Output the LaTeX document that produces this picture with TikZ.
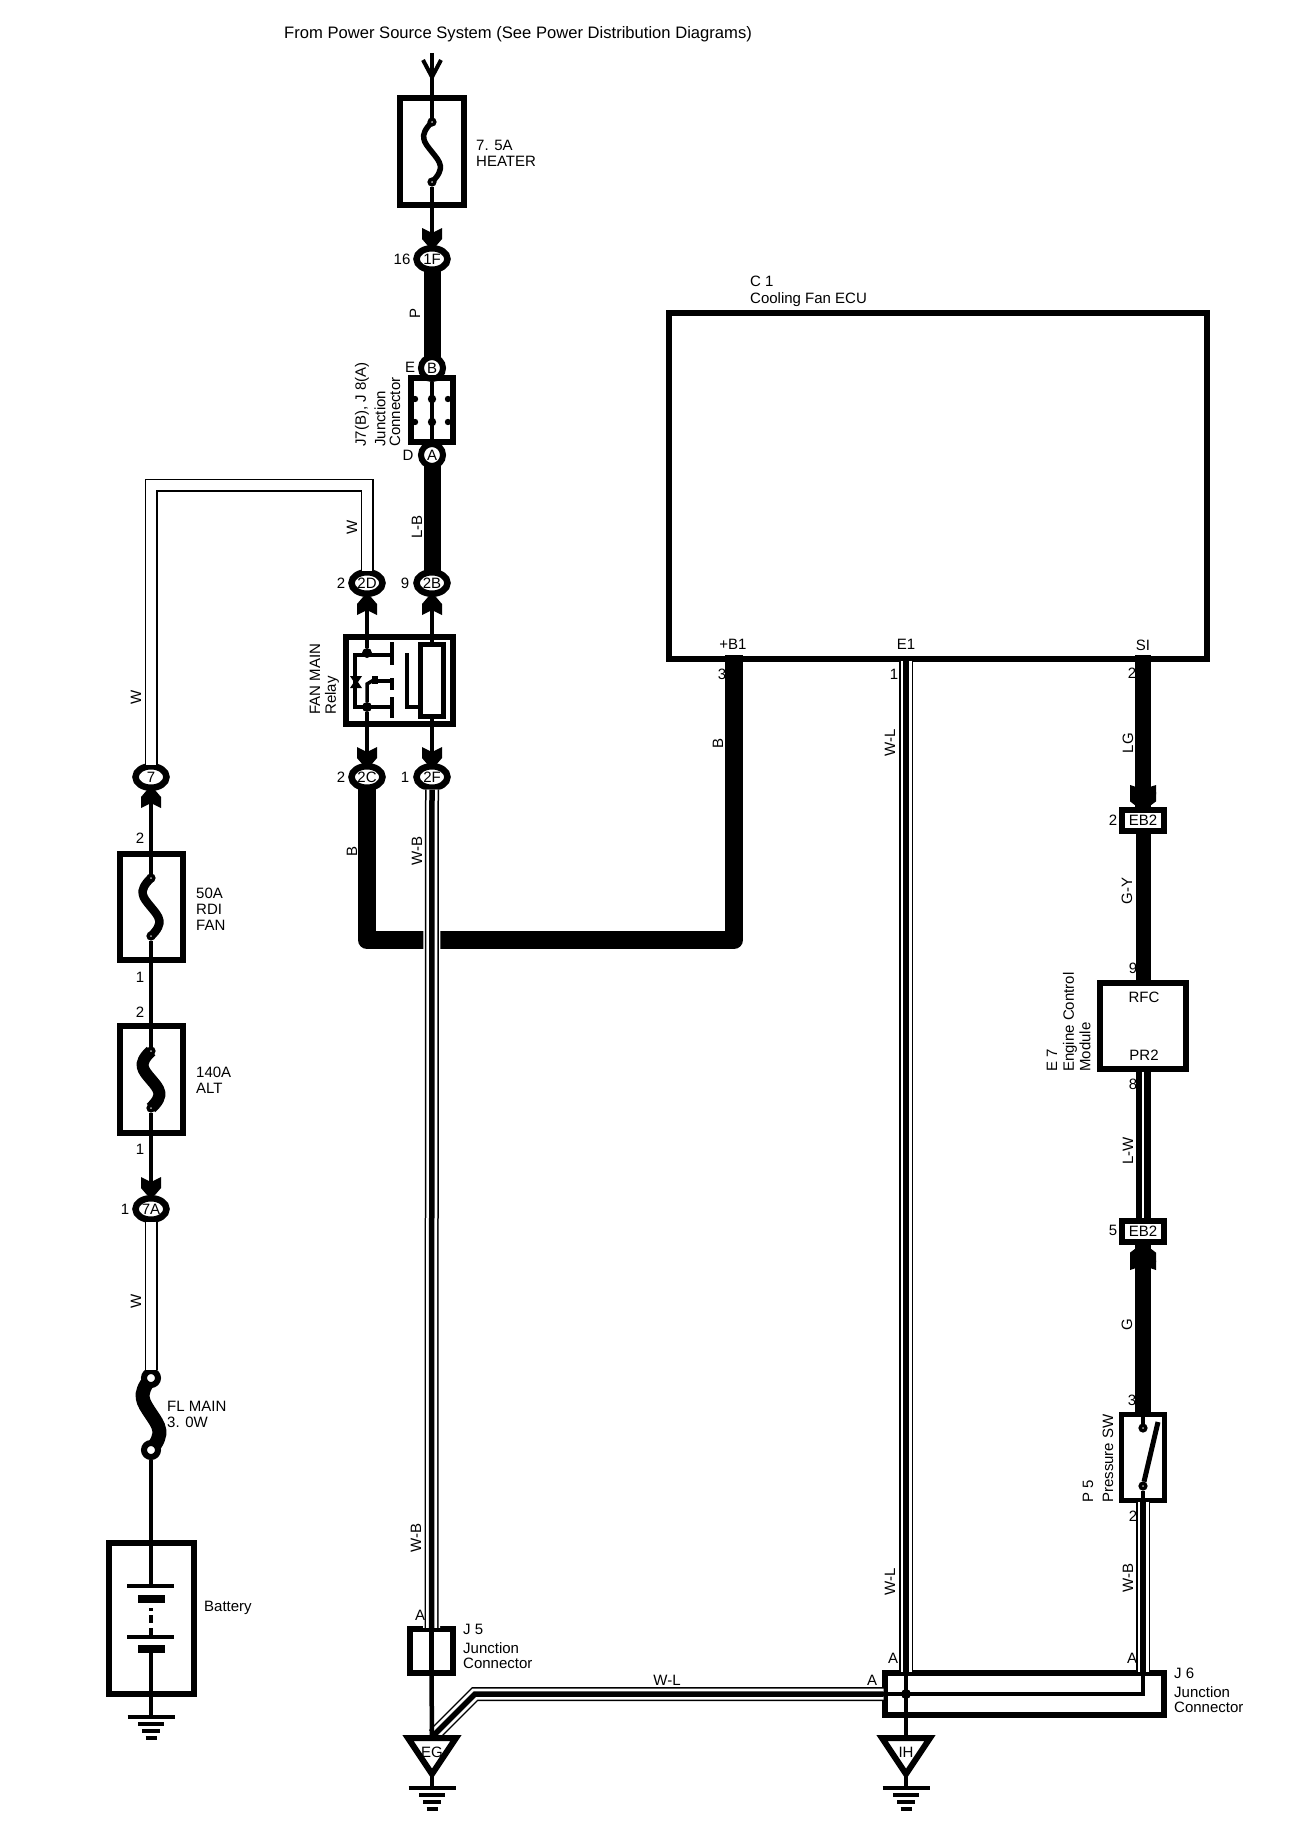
\documentclass[tikz,border=0pt]{standalone}
\usepackage{fontspec}
\setmainfont{Liberation Sans}
\usetikzlibrary{shapes.geometric}
\tikzset{
  lbl/.style={inner sep=0pt,font=\fontsize{15}{17}\selectfont},
  vlbl/.style={lbl,rotate=90},
  boxline/.style={draw,rectangle,inner sep=0pt,line width=6pt},
  plug/.style={draw,ellipse,inner sep=0pt,line width=6.5pt,minimum width=31pt,minimum height=21.5pt,font=\fontsize{15}{17}\selectfont},
  roundplug/.style={draw,circle,inner sep=0pt,line width=6pt,minimum size=22pt,font=\fontsize{15}{17}\selectfont},
  ebplug/.style={boxline,minimum width=42pt,minimum height=21pt,font=\fontsize{15}{17}\selectfont},
  fusedot/.style={draw,circle,fill=white,inner sep=0pt,line width=3.5pt,minimum size=5.5pt},
  linkdot/.style={draw,circle,fill=white,inner sep=0pt,line width=6pt,minimum size=14pt},
  bigdot/.style={circle,fill,inner sep=0pt,minimum size=10pt},
  wirethin/.style={line width=4.5pt},
  wirefat/.style={line width=17pt,shorten <=-4pt,shorten >=-4pt},
  wirewhite/.style={line width=13pt,shorten <=-1.5pt,shorten >=-1.5pt,postaction={draw,white,line width=10pt}},
  wiretrace/.style={line width=14pt,shorten <=-1.5pt,shorten >=-1.5pt,postaction={draw,white,line width=11pt},postaction={draw,black,line width=5.5pt}},
  wirestripe/.style={line width=15pt,postaction={draw,white,line width=1.5pt}},
  tri/.style={line width=6pt,line join=miter},
  pics/chevron/.style={code={\fill (-10,0) -- (0,5) -- (10,0) -- (10,11) -- (4,18) -- (-4,18) -- (-10,11) -- cycle;}},
  pics/fuseS/.style={code={\draw[line width=#1] (0,0) .. controls (-14,14) and (-8,20) .. (0,30) .. controls (8,40) and (14,46) .. (0,60);}},
  pics/gnd/.style={code={
    \draw[line width=4pt] (-23.5,0) -- (23.5,0);
    \draw[line width=4pt] (-13,7) -- (13,7);
    \draw[line width=4pt] (-9,14) -- (9,14);
    \draw[line width=4pt] (-5.5,21) -- (5.5,21);}}
}
\begin{document}
\begin{tikzpicture}[x=1pt,y=-1pt]
\useasboundingbox (0,0) rectangle (1312,1828);
\node[lbl,anchor=west,font=\fontsize{16.6}{18}\selectfont] (title) at (284,34) {From Power Source System (See Power Distribution Diagrams)};
\coordinate (srcIn) at (432,53);
\draw[line width=4pt] (423,60) -- (432,77) -- (441,60);
\node[boxline,minimum width=64pt,minimum height=107pt] (fuseH) at (432,151.5) {};
\pic at (432,122) {fuseS=5.5pt};
\node[fusedot] (fuseHa) at (432,122) {};
\node[fusedot] (fuseHb) at (432,182) {};
\draw[wirethin] (srcIn) -- (fuseHa);
\draw[wirethin] (fuseHb) -- (432,240);
\node[lbl,anchor=west] (fuseHt1) at (476,145) {7. 5A};
\node[lbl,anchor=west] (fuseHt2) at (476,161) {HEATER};
\pic at (432,228) {chevron};
\node[plug] (c1F) at (432,259) {1F};
\node[lbl] (c1Fn) at (402,259) {16};
\node[roundplug] (cB) at (432,368) {B};
\node[boxline,minimum width=42pt,minimum height=64pt] (jc78) at (432,410) {};
\node[roundplug] (cA) at (432,455) {A};
\node[lbl] (cBn) at (410,367) {E};
\node[lbl] (cAn) at (408,455) {D};
\draw[wirefat] (c1F.south) -- (cB.north);
\node[vlbl] (wP) at (415,313) {P};
\draw[wirethin] (cB.south) -- (cA.north);
\foreach \yy in {399,422} {
  \fill (415,\yy) circle (3.2);
  \fill (432,\yy) circle (4.2);
  \fill (448,\yy) circle (3.2);
}
\node[vlbl,anchor=west] (jcT1) at (362,447) {J7(B), J 8(A)};
\node[vlbl,anchor=west] (jcT2) at (380,447) {Junction};
\node[vlbl,anchor=west] (jcT3) at (395,447) {Connector};
\node[plug] (c2D) at (367,583) {2D};
\node[plug] (c2B) at (432,583) {2B};
\node[lbl] (c2Dn) at (341,583) {2};
\node[lbl] (c2Bn) at (405,583) {9};
\draw[wirefat] (cA.south) -- (c2B.north);
\node[vlbl] (wLB) at (417,527) {L-B};
\node[vlbl] (wW1) at (352,527) {W};
\pic[rotate=180] at (367,615) {chevron};
\pic[rotate=180] at (432,615) {chevron};
\node[boxline,minimum width=107pt,minimum height=87pt] (relay) at (399.5,680.5) {};
\node[boxline,line width=5pt,minimum width=23pt,minimum height=72pt] (coil) at (432,680.5) {};
\node[bigdot] (rA) at (367,653) {};
\node[bigdot] (rB) at (367,707) {};
\draw[wirethin] (c2D.south) -- (rA);
\draw[wirethin] (c2B.south) -- (coil.north);
\draw[line width=3.5pt] (392,655) -- (355,655) -- (355,707) -- (392,707);
\draw[line width=3.5pt] (rB) -- (367,684) -- (377,678);
\fill (372,676) rectangle (378,684);
\draw[line width=3.5pt] (378,681) -- (392,681);
\fill (350,676) -- (362,676) -- (358,682) -- (362,688) -- (350,688) -- (354,682) -- cycle;
\draw[line width=3.5pt] (392,642) -- (392,665);
\draw[line width=3.5pt] (392,678) -- (392,690);
\draw[line width=3.5pt] (392,697) -- (392,718);
\draw[line width=3.5pt] (407,653) -- (407,707) -- (418,707);
\node[vlbl,anchor=west] (relayT1) at (315,715) {FAN MAIN};
\node[vlbl,anchor=west] (relayT2) at (332,715) {Relay};
\pic at (367,747) {chevron};
\pic at (432,747) {chevron};
\node[plug] (c2C) at (367,777) {2C};
\node[plug] (c2F) at (432,777) {2F};
\node[lbl] (c2Cn) at (341,777) {2};
\node[lbl] (c2Fn) at (405,777) {1};
\draw[wirethin] (rB) -- (c2C.north);
\draw[wirethin] (coil.south) -- (c2F.north);
\node[vlbl] (wB1) at (352,851) {B};
\node[vlbl] (wWB1) at (417,851) {W-B};
\node[vlbl] (wWB2) at (416,1538) {W-B};
\node[plug] (c7) at (151,777) {7};
\pic[rotate=180] at (151,808) {chevron};
\draw[wirewhite] (c2D.north) -- (367,485) -- (151,485) -- (c7.north);
\node[vlbl] (wW2) at (136,697) {W};
\node[lbl] (f1n2) at (140,838) {2};
\node[boxline,minimum width=63pt,minimum height=106pt] (fuseR) at (151.5,907) {};
\pic at (151,878) [yscale=0.97] {fuseS=8.5pt};
\node[fusedot] (fuseRa) at (151,878) {};
\node[fusedot] (fuseRb) at (151,936) {};
\node[lbl,anchor=west] (fuseRt1) at (196,893) {50A};
\node[lbl,anchor=west] (fuseRt2) at (196,909) {RDI};
\node[lbl,anchor=west] (fuseRt3) at (196,925) {FAN};
\node[lbl] (f1n1) at (140,977) {1};
\node[lbl] (f2n2) at (140,1012) {2};
\node[boxline,minimum width=63pt,minimum height=107pt] (fuseA) at (151.5,1079.5) {};
\pic at (151,1051) [yscale=0.95] {fuseS=12pt};
\node[fusedot] (fuseAa) at (151,1051) {};
\node[fusedot] (fuseAb) at (151,1108) {};
\node[lbl,anchor=west] (fuseAt1) at (196,1072) {140A};
\node[lbl,anchor=west] (fuseAt2) at (196,1088) {ALT};
\node[lbl] (f2n1) at (140,1149) {1};
\pic at (151,1177) {chevron};
\node[plug] (c7A) at (151,1209) {7A};
\node[lbl] (c7An) at (125,1209) {1};
\draw[wirethin] (c7.south) -- (fuseRa);
\draw[wirethin] (fuseRb) -- (fuseAa);
\draw[wirethin] (fuseAb) -- (151,1190);
\pic at (151,1378) [yscale=1.2] {fuseS=14pt};
\node[linkdot] (flA) at (151,1378) {};
\node[linkdot] (flB) at (151,1450) {};
\draw[wirewhite] (c7A.south) -- (flA.north);
\node[vlbl] (wW3) at (136,1301) {W};
\node[lbl,anchor=west] (flT1) at (167,1406) {FL MAIN};
\node[lbl,anchor=west] (flT2) at (167,1422) {3. 0W};
\node[boxline,line width=5.5pt,minimum width=85pt,minimum height=151pt] (batt) at (151.5,1618.5) {};
\coordinate (batA) at (151,1586);
\coordinate (batB) at (151,1649);
\coordinate (gndB) at (151,1716);
\draw[wirethin] (flB.south) -- (batA);
\draw[wirethin] (batB) -- (gndB);
\draw[line width=4pt] (127,1586) -- (174,1586);
\fill (138,1595) rectangle (165,1603);
\draw[wirethin,dash pattern=on 3pt off 4pt on 8pt off 5pt on 7pt] (151,1608) -- (151,1635);
\draw[line width=4pt] (127,1637) -- (174,1637);
\fill (138,1645) rectangle (165,1653);
\pic at (151,1716.5) {gnd};
\node[lbl,anchor=west] (battT) at (204,1608) {Battery};
\node[boxline,line width=5.5pt,minimum width=538pt,minimum height=346pt] (ecu) at (938,486) {};
\node[lbl,anchor=west] (ecuT1) at (750,281) {C 1};
\node[lbl,anchor=west] (ecuT2) at (750,300) {Cooling Fan ECU};
\node[lbl] (pinB1) at (733,644) {+B1};
\node[lbl] (pinE1) at (906,644) {E1};
\node[lbl] (pinSI) at (1143,645) {SI};
\node[lbl] (pinB1n) at (722,674) {3};
\node[lbl] (pinE1n) at (894,674) {1};
\node[lbl] (pinSIn) at (1132,673) {2};
\coordinate (ecuB1) at (734,659);
\coordinate (ecuE1) at (906,662);
\coordinate (ecuSI) at (1143,659);
\draw[wirefat,line width=18pt,line join=round] (ecuB1) -- (734,940) -- (367,940) -- (c2C.south);
\node[vlbl] (wB2) at (718,743) {B};
\node[vlbl] (wWL1) at (890,743) {W-L};
\node[vlbl] (wWL2) at (890,1582) {W-L};
\node[boxline,line width=5.5pt,minimum width=43pt,minimum height=44pt] (j5) at (431.5,1651) {};
\draw[wiretrace,preaction={draw,white,line width=17pt}] (c2F.south) -- (j5.north);
\node[lbl] (j5A) at (420,1615) {A};
\node[lbl,anchor=west] (j5T1) at (463,1629) {J 5};
\node[lbl,anchor=west] (j5T2) at (463,1648) {Junction};
\node[lbl,anchor=west] (j5T3) at (463,1663) {Connector};
\node[boxline,minimum width=279pt,minimum height=42pt] (j6) at (1024.5,1694) {};
\draw[wiretrace] (ecuE1) -- (906,1670);
\node[lbl] (j6A1) at (893,1658) {A};
\node[lbl] (j6A2) at (1132,1658) {A};
\node[lbl] (j6A3) at (872,1680) {A};
\node[lbl,anchor=west] (j6T1) at (1174,1673) {J 6};
\node[lbl,anchor=west] (j6T2) at (1174,1692) {Junction};
\node[lbl,anchor=west] (j6T3) at (1174,1707) {Connector};
\coordinate (egTop) at (432,1738);
\coordinate (ihTop) at (906,1738);
\draw[wiretrace] (j6.west) -- (475,1694) -- (435,1734);
\node[lbl] (wWL3) at (667,1680) {W-L};
\draw[wirethin] (j5.north) -- (j5.south);
\draw[wirethin] (j5.south) -- (egTop);
\draw[tri] (408,1738) -- (456,1738) -- (432,1774) -- cycle;
\node[lbl] (egT) at (432,1752) {EG};
\draw[wirethin] (432,1774) -- (432,1788);
\pic at (432,1788) {gnd};
\draw[wirethin] (906,1670) -- (ihTop);
\draw[wirethin] (j6.west) -- (1143,1694) -- (1143,1670);
\node[bigdot] (j6dot) at (906,1694) {};
\draw[tri] (882,1738) -- (930,1738) -- (906,1774) -- cycle;
\node[lbl] (ihT) at (906,1752) {IH};
\draw[wirethin] (906,1774) -- (906,1788);
\pic at (906,1788) {gnd};
\node[ebplug] (eb2a) at (1143,820.5) {EB2};
\node[lbl] (eb2an) at (1113,820) {2};
\draw[wirefat,line width=16pt] (ecuSI) -- (eb2a.north);
\pic[xscale=1.3,yscale=0.85] at (1143,785) {chevron};
\pic[xscale=1.3,yscale=0.85] at (1143,792) {chevron};
\node[vlbl] (wLG) at (1128,743) {LG};
\node[boxline,line width=5.5pt,minimum width=86pt,minimum height=86pt] (ecm) at (1143,1026) {};
\draw[wirefat,line width=15pt] (eb2a.south) -- (ecm.north);
\node[vlbl] (wGY) at (1127,891) {G-Y};
\node[lbl] (ecmRFC) at (1144,997) {RFC};
\node[lbl] (ecmPR2) at (1144,1055) {PR2};
\node[lbl] (ecmN9) at (1133,968) {9};
\node[lbl] (ecmN8) at (1133,1084) {8};
\node[vlbl,anchor=west] (ecmT1) at (1052,1072) {E 7};
\node[vlbl,anchor=west] (ecmT2) at (1070,1072) {Engine Control};
\node[vlbl,anchor=west] (ecmT3) at (1085,1072) {Module};
\node[ebplug] (eb2b) at (1143,1231) {EB2};
\node[lbl] (eb2bn) at (1113,1230) {5};
\draw[wirestripe] (ecm.south) -- (eb2b.north);
\node[vlbl] (wLW) at (1128,1151) {L-W};
\node[boxline,line width=5pt,minimum width=43pt,minimum height=86pt] (psw) at (1143,1457.5) {};
\draw[wirefat,line width=16pt] (eb2b.south) -- (psw.north);
\pic[rotate=180,xscale=1.3,yscale=0.85] at (1143,1262) {chevron};
\pic[rotate=180,xscale=1.3,yscale=0.85] at (1143,1270) {chevron};
\node[vlbl] (wG) at (1127,1325) {G};
\node[lbl] (pswN3) at (1132,1400) {3};
\node[lbl] (pswN2) at (1133,1516) {2};
\node[fusedot] (pswA) at (1143,1428) {};
\node[fusedot] (pswB) at (1143,1486) {};
\draw[wirethin] (psw.north) -- (pswA);
\draw[wirethin] (pswB) -- (psw.south);
\draw[line width=5pt] (pswB) -- (1158,1422);
\node[vlbl,anchor=west] (pswT1) at (1088,1503) {P 5};
\node[vlbl,anchor=west] (pswT2) at (1108,1503) {Pressure SW};
\draw[wiretrace] (psw.south) -- (1143,1670);
\node[vlbl] (wWB3) at (1128,1578) {W-B};
\end{tikzpicture}
\end{document}
